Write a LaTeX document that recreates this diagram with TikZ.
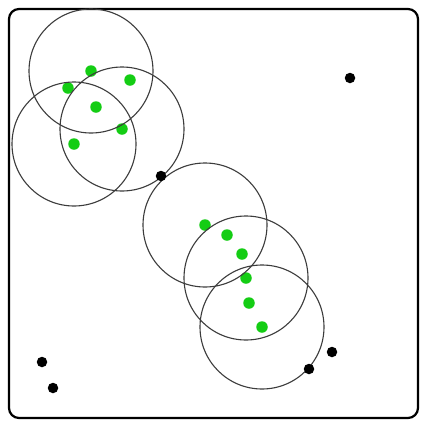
\documentclass[tikz,border=0pt]{standalone}
\definecolor{dotgreen}{RGB}{20,205,20}
\definecolor{ringgray}{RGB}{60,60,60}
\begin{document}
\begin{tikzpicture}[x=1pt,y=-1pt,
  ring/.style={draw=ringgray,line width=1.1pt},
  gdot/.style={circle,fill=dotgreen,inner sep=0pt,minimum size=11.5pt},
  bdot/.style={circle,fill=black,inner sep=0pt,minimum size=10.5pt}]
\useasboundingbox (0,0) rectangle (421,421);
\fill[white] (0,0) rectangle (421,421);
\draw[line width=2.2pt,rounded corners=10pt] (9,9) rectangle (418,418) node[coordinate] (frame) {};
% rings centred on selected green points
\node[gdot] (g1) at (91,71) {};
\node[gdot] (g2) at (130,80) {};
\node[gdot] (g3) at (68,88) {};
\node[gdot] (g4) at (96,107) {};
\node[gdot] (g5) at (122,129) {};
\node[gdot] (g6) at (74,144) {};
\node[gdot] (g7) at (205,225) {};
\node[gdot] (g8) at (227,235) {};
\node[gdot] (g9) at (242,254) {};
\node[gdot] (g10) at (246,278) {};
\node[gdot] (g11) at (249,303) {};
\node[gdot] (g12) at (262,327) {};
\draw[ring] (g1.center) circle[radius=62];
\draw[ring] (g6.center) circle[radius=62];
\draw[ring] (g5.center) circle[radius=62];
\draw[ring] (g7.center) circle[radius=62];
\draw[ring] (g10.center) circle[radius=62];
\draw[ring] (g12.center) circle[radius=62];
\node[bdot] (b1) at (161,176) {};
\node[bdot] (b2) at (350,78) {};
\node[bdot] (b3) at (332,352) {};
\node[bdot] (b4) at (309,369) {};
\node[bdot] (b5) at (42,362) {};
\node[bdot] (b6) at (53,388) {};
\end{tikzpicture}
\end{document}
